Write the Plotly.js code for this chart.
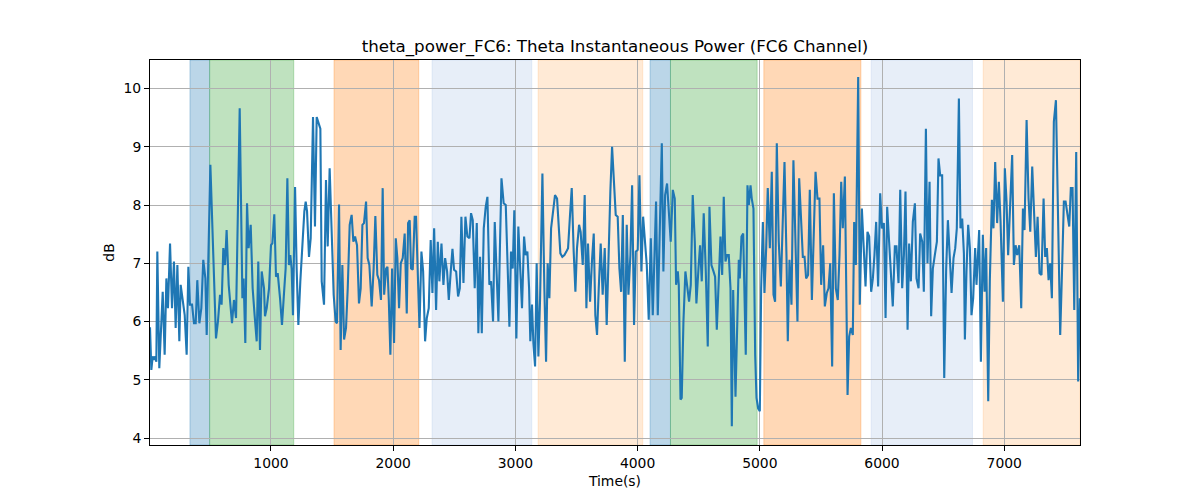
<!DOCTYPE html>
<html>
<head>
<meta charset="utf-8">
<script src="https://cdn.plot.ly/plotly-3.0.1.min.js"></script>
<style>html,body{margin:0;padding:0;background:#fff;}#chart{width:1200px;height:500px;}</style>
</head>
<body>
<div id="chart"></div>
<script>
// ---- data ----
const timeSec = [
10,21,32,43,53,62,70,86,114,130,144,157,174,190,206,220,234,250,261,277,294,310,324,337,354,370,384,397,414,430,446,463,474,504,525,550,566,583,596,610,624,637,654,681,697,714,744,766,776,790,804,817,834,850,866,883,896,910,924,943,
951,965,984,1000,1011,1027,1041,1055,1074,1090,1109,1120,1134,1147,1158,1169,1180,1197,1210,1224,1240,1257,1273,1284,1295,1311,1325,1344,1360,1374,1387,1404,1415,1434,1450,1464,1480,1497,1513,1529,1540,1557,1570,1584,1598,1614,1628,1644,1660,1674,1688,1704,1720,1734,1748,1761,1778,1791,1805,1824,1840,1854,1870,1884,1900,1914,
1926,1942,1953,1964,1977,1991,2007,2021,2034,2048,2062,2078,2094,2111,2122,2135,2146,2160,2176,2187,2215,2231,2245,2261,2275,2291,2307,2321,2335,2351,2365,2378,2395,2411,2425,2441,2455,2471,2485,2498,2515,2531,2545,2558,2575,2591,2607,2624,2637,2651,2667,2684,2697,2711,2725,2741,2757,2771,2787,2801,2817,2831,2847,2861,2875,2886,
2904,2921,2937,2951,2964,2978,2991,3008,3024,3038,3054,3071,3084,3098,3112,3122,3136,3147,3161,3174,3188,3202,3221,3237,3251,3264,3278,3292,3308,3324,3341,3354,3368,3384,3401,3417,3431,3447,3461,3477,3491,3504,3521,3534,3551,3567,3581,3594,3611,3627,3641,3654,3668,3682,3698,3714,3731,3747,3763,3777,3791,3807,3821,3837,
3851,3865,3879,3895,3911,3925,3941,3955,3971,3985,4001,4015,4031,4045,4059,4075,4091,4108,4124,4138,4151,4165,4181,4198,4211,4225,4241,4255,4271,4288,4304,4315,4329,4337,4351,4361,4375,4391,4408,4421,4435,4451,4468,4481,4498,4511,4525,4541,4558,4574,4588,4604,4621,4634,4648,4664,4678,4692,4705,4719,4732,4746,4760,4771,
4782,4801,4814,4828,4836,4850,4864,4874,4885,4899,4910,4924,4934,4948,4962,4973,4986,5000,5011,5025,5038,5052,5065,5082,5098,5112,5125,5139,5155,5172,5188,5202,5218,5229,5243,5259,5275,5292,5308,5322,5338,5352,5366,5379,5395,5409,5426,5442,5456,5472,5488,5502,5518,5532,5548,5562,5576,5592,5606,5622,5638,5652,5666,5679,5696,5707,5718,5731,5745,
5761,5772,5786,5805,5818,5835,5848,5865,5881,5895,5911,5925,5938,5952,5968,5985,5999,6015,6029,6042,6058,6075,6088,6105,6118,6135,6149,6165,6179,6192,6209,6222,6236,6252,6269,6282,6299,6312,6329,6342,6359,6372,6389,6402,6416,6432,6449,6462,6476,6492,6509,6525,6539,6555,6569,6585,6599,6612,6629,6642,6656,6670,6678,6691,
6705,6719,6732,6746,6762,6773,6784,6795,6809,6825,6839,6852,6869,6882,6899,6912,6926,6942,6956,6970,6989,7005,7019,7032,7049,7065,7079,7093,7106,7123,7139,7153,7166,7183,7199,7213,7229,7245,7259,7273,7289,7305,7322,7335,7349,7363,7376,7390,7406,7423,7439,7458,7472,7488,7502,7515,7532,7545,7559,7573,7589,7605,7619
];
const thetaPowerDb = [
5.9,5.17,5.4,5.34,5.4,5.31,7.2,5.2,6.51,5.43,6.74,6.23,7.34,6.23,7.03,5.89,6.97,5.66,6.63,6.4,6.11,5.43,6.94,6.29,6.29,5.97,5.97,6.71,5.97,6.23,7.06,6.74,5.77,8.69,7.14,5.71,6.0,6.46,6.29,7.26,6.97,7.57,6.63,5.97,6.37,6.06,9.66,6.4,6.74,5.63,8.03,7.26,7.66,6.57,6.11,5.66,7.03,5.51,6.86,6.57,
6.09,6.23,6.57,7.31,7.34,7.84,6.77,6.83,6.4,5.94,6.57,6.91,8.46,6.97,7.14,6.91,6.11,8.31,6.91,5.94,6.69,7.37,7.89,8.06,7.89,7.11,7.43,9.51,7.63,9.51,9.43,9.31,6.69,6.29,8.43,7.29,8.63,7.6,6.46,6.0,5.97,8.01,5.51,6.97,5.69,5.89,6.57,7.66,7.83,7.37,7.46,7.31,6.31,6.57,7.66,7.69,8.06,7.09,6.97,6.26,6.91,7.81,6.8,6.71,6.37,8.29,
6.46,6.91,6.94,6.37,5.43,6.91,5.63,7.43,7.09,6.23,7.0,7.09,7.51,6.14,7.69,7.74,6.91,6.89,7.8,7.8,5.89,7.2,6.86,5.66,6.06,6.23,7.4,6.49,7.6,6.2,7.37,6.69,7.34,6.63,7.09,6.86,6.37,6.86,7.25,6.89,6.86,6.43,6.57,7.8,6.66,7.8,7.46,7.43,7.86,7.74,6.57,7.69,5.8,7.11,5.8,7.6,7.97,8.14,6.63,6.69,6.0,7.71,6.86,6.0,7.43,8.46,
8.03,8.0,6.91,5.91,7.2,6.91,7.91,5.71,7.63,6.91,6.23,7.46,7.14,7.2,6.57,5.66,6.29,5.63,5.23,7.0,5.4,6.4,8.54,6.57,5.31,7.0,6.4,7.6,7.89,8.17,8.11,7.71,7.17,7.11,7.14,7.2,7.26,7.83,8.29,7.2,6.51,7.26,7.66,7.54,6.97,8.17,6.23,7.34,6.34,7.06,7.51,6.11,5.77,6.57,7.34,6.46,7.26,5.94,7.37,8.23,9.0,8.4,7.83,7.8,
6.91,6.51,7.83,5.31,7.66,6.46,7.14,8.34,5.94,7.2,7.23,8.51,6.86,7.8,7.37,6.97,6.03,7.43,6.11,7.14,8.06,6.11,7.71,9.06,6.86,8.17,8.37,7.89,7.37,8.26,8.11,6.63,6.86,6.63,4.66,4.69,6.0,6.86,6.49,6.34,6.63,8.17,7.37,6.31,6.91,7.31,6.69,7.86,6.86,5.57,7.97,6.97,6.86,6.77,5.86,6.8,7.46,6.8,8.14,7.03,7.14,7.14,6.57,4.2,
6.54,4.71,6.0,7.06,6.74,7.46,7.51,6.57,5.43,8.34,8.0,8.34,8.11,7.94,5.43,4.69,4.51,4.46,6.57,7.71,6.49,7.26,8.29,7.26,8.57,6.46,6.34,9.06,7.37,6.6,7.89,8.74,7.14,5.66,7.06,6.29,8.77,7.26,6.0,8.46,7.71,7.11,7.11,6.74,6.8,8.26,6.37,7.6,8.57,8.11,8.11,6.63,7.31,6.26,6.49,6.57,7.0,5.23,8.2,6.57,6.37,7.14,8.4,7.6,8.49,6.63,4.74,5.74,5.89,
5.77,7.71,6.97,10.2,6.29,7.94,7.37,6.6,7.54,7.46,6.51,6.74,7.14,7.71,6.6,8.2,7.6,7.69,6.06,7.97,7.37,6.8,6.26,7.29,7.29,6.66,8.26,6.57,7.14,8.23,5.86,7.34,6.69,7.71,8.03,6.74,6.57,7.51,7.37,6.51,9.31,7.0,8.4,6.09,6.91,7.14,7.37,8.8,8.51,8.51,5.03,6.91,7.74,7.09,6.49,7.09,7.26,7.6,9.83,7.6,7.77,7.17,5.69,6.86,
7.66,7.26,6.11,6.4,7.26,6.63,7.2,7.57,5.31,7.49,6.51,7.26,4.63,6.69,8.09,7.6,8.74,7.69,8.4,7.71,6.34,8.63,8.06,7.14,8.03,8.86,6.97,7.31,7.14,7.31,6.23,7.94,7.57,9.46,8.11,7.54,8.66,7.83,7.11,7.8,6.83,6.8,8.11,7.11,7.26,6.71,7.0,6.4,9.43,9.8,7.91,5.77,6.8,8.06,8.06,7.89,7.63,8.29,8.29,6.2,8.91,4.97,6.4
];
// shaded epochs (time in seconds)
const spanStarts = [337, 498, 1516, 2318, 3186, 4102, 4269, 5033, 5911, 6828];
const spanEnds   = [498, 1186, 2209, 3134, 4042, 4269, 4978, 5827, 6740, 7620];
const spanKinds  = ["blue", "green", "orange", "lightblue", "lightorange", "blue", "green", "orange", "lightblue", "lightorange"];
const xTickVals  = [1000, 2000, 3000, 4000, 5000, 6000, 7000];
const yTickVals  = [4, 5, 6, 7, 8, 9, 10];

// ---- styling ----
const kindFill = {
  blue: "rgba(31,119,180,0.3)",
  green: "rgba(44,160,44,0.3)",
  orange: "rgba(255,127,14,0.3)",
  lightblue: "rgba(174,199,232,0.3)",
  lightorange: "rgba(255,187,120,0.3)"
};
const shapes = spanStarts.map((s, i) => ({
  type: "rect", xref: "x", yref: "paper",
  x0: s, x1: spanEnds[i], y0: 0, y1: 1,
  fillcolor: kindFill[spanKinds[i]],
  line: {color: kindFill[spanKinds[i]], width: 1},
  layer: "below"
}));

const font = "DejaVu Sans, sans-serif";
const trace = {
  x: timeSec, y: thetaPowerDb, type: "scatter", mode: "lines",
  line: {color: "#1f77b4", width: 2.1}, hoverinfo: "skip"
};
const axisCommon = {
  showgrid: true, gridcolor: "#b0b0b0", gridwidth: 1,
  showline: true, mirror: true, linecolor: "#000", linewidth: 1,
  ticks: "outside", ticklen: 5, tickwidth: 1, tickcolor: "#000",
  zeroline: false, tickfont: {family: font, size: 13.9, color: "#000"}
};
const layout = {
  width: 1200, height: 500,
  margin: {l: 150, r: 120, t: 60, b: 55, pad: 0},
  paper_bgcolor: "#fff", plot_bgcolor: "#fff",
  showlegend: false,
  font: {family: font, color: "#000"},
  title: {
    text: "theta_power_FC6: Theta Instantaneous Power (FC6 Channel)",
    font: {family: font, size: 16.7, color: "#000"},
    x: 0.5, xref: "paper", xanchor: "center",
    y: 1 - 46 / 500, yref: "container", yanchor: "middle"
  },
  xaxis: Object.assign({}, axisCommon, {
    range: [10, 7620], tickvals: xTickVals, ticktext: xTickVals.map(String),
    title: {text: "Time(s)", font: {family: font, size: 13.9, color: "#000"}, standoff: 6}
  }),
  yaxis: Object.assign({}, axisCommon, {
    range: [3.88, 10.49], tickvals: yTickVals, ticktext: yTickVals.map(String),
    title: {text: "dB", font: {family: font, size: 13.9, color: "#000"}, standoff: 5}
  }),
  shapes: shapes
};
Plotly.newPlot("chart", [trace], layout, {displayModeBar: false, staticPlot: true});
</script>
</body>
</html>
